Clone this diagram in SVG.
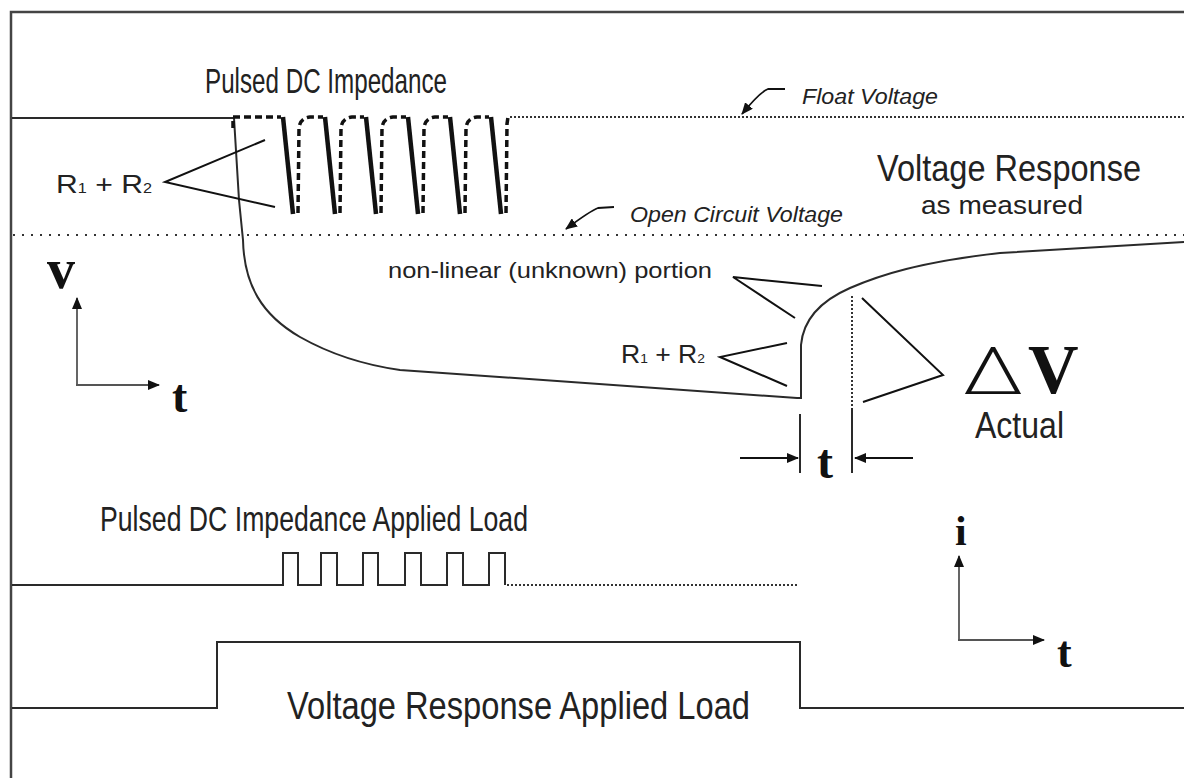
<svg xmlns="http://www.w3.org/2000/svg" width="1184" height="778" viewBox="0 0 1184 778">
<defs>
<marker id="ah" viewBox="0 0 12 10" refX="11" refY="5" markerWidth="12" markerHeight="10" markerUnits="userSpaceOnUse" orient="auto">
<path d="M0,0 L12,5 L0,10 z" fill="#111"/>
</marker>
</defs>
<style>
.ln{fill:none;stroke:#2a2a2a;stroke-width:2}
.frame{fill:none;stroke:#444;stroke-width:2.5}
.dot{fill:none;stroke:#333;stroke-width:2;stroke-dasharray:2 2}
.dot2{fill:none;stroke:#333;stroke-width:2;stroke-dasharray:2 7}
.thick{fill:none;stroke:#111;stroke-width:4.5}
.dash{fill:none;stroke:#111;stroke-width:3.5;stroke-dasharray:7 4}
.ax{fill:none;stroke:#555;stroke-width:1.8}
.arr{fill:none;stroke:#111;stroke-width:1.8}
.wd{fill:none;stroke:#111;stroke-width:2}
.t{font-family:"Liberation Sans",Arial,sans-serif;fill:#222}
.it{font-family:"Liberation Sans",Arial,sans-serif;font-style:italic;fill:#222}
.b{font-family:"Liberation Serif","Times New Roman",serif;font-weight:bold;fill:#111}
</style>
<rect width="1184" height="778" fill="#fff"/>
<g id="frame">
<path class="frame" d="M11,778 L11,12 L1184,12"/>
</g>
<g id="connectors">
<path class="ln" d="M12,118 L233,118"/>
<path class="dot" d="M510,117 L1184,117"/>
<path class="dot2" d="M13,235 L1184,235"/>
<path class="ln" d="M234,118 L239,200 L243,240 C244,285 262,315 300,337 C330,354 365,365 400,370 L797,398 L801,398 L801,345 C803,322 818,302 850,288 C880,275 920,262 1000,253 L1184,242"/>
<path class="dash" d="M233,128 L233,117 L281,117"/>
<path class="thick" d="M283,117 L293,214"/>
<path class="dash" d="M298,213 L299,128 Q300,118 310,117 L323,117"/>
<path class="thick" d="M325,117 L335,214"/>
<path class="dash" d="M340,213 L341,128 Q342,118 352,117 L364,117"/>
<path class="thick" d="M366,117 L376,214"/>
<path class="dash" d="M381,213 L382,128 Q383,118 393,117 L406,117"/>
<path class="thick" d="M408,117 L418,214"/>
<path class="dash" d="M423,213 L424,128 Q425,118 435,117 L448,117"/>
<path class="thick" d="M450,117 L460,214"/>
<path class="dash" d="M465,213 L466,128 Q467,118 477,117 L489,117"/>
<path class="thick" d="M491,117 L501,214"/>
<path class="dash" d="M506,213 L507,124 L508,117"/>
<path class="arr" d="M785,89 L768,89 Q760,92 742,114" marker-end="url(#ah)"/>
<path class="arr" d="M614,207 L598,208 Q590,211 566,229" marker-end="url(#ah)"/>
<path class="wd" d="M265,140 L165,182 L275,207"/>
<path class="wd" d="M822,286 L733,277 L795,318"/>
<path class="wd" d="M787,343 L720,357 L787,386"/>
<path class="wd" d="M862,298 L943,375 L863,402"/>
<path class="ln" d="M800,414 L800,473"/>
<path class="dot" d="M852,296 L852,408"/>
<path class="ln" d="M852,408 L852,473"/>
<path class="arr" d="M740,458 L798,458" marker-end="url(#ah)"/>
<path class="arr" d="M913,458 L855,458" marker-end="url(#ah)"/>
<path class="ax" d="M77,385 L77,298" marker-end="url(#ah)"/>
<path class="ax" d="M76,385 L159,385" marker-end="url(#ah)"/>
<path class="ax" d="M959,640 L959,556" marker-end="url(#ah)"/>
<path class="ax" d="M958,640 L1044,640" marker-end="url(#ah)"/>
<path class="ln" d="M12,585 L283,585 L283,553 L298,553 L298,585 L321,585 L321,553 L337,553 L337,585 L363,585 L363,553 L378,553 L378,585 L405,585 L405,553 L421,553 L421,585 L447,585 L447,553 L463,553 L463,585 L489,585 L489,553 L505,553 L505,585"/>
<path class="dot" d="M507,585 L797,585"/>
<path class="ln" d="M12,708 L217,708 L217,642 L800,642 L800,708 L1184,708"/>
</g>
<g id="label-pulsed-dc"><text class="t" x="205" y="93" font-size="35" textLength="242" lengthAdjust="spacingAndGlyphs">Pulsed DC Impedance</text></g>
<g id="label-float"><text class="it" x="802" y="104" font-size="22" textLength="136" lengthAdjust="spacingAndGlyphs">Float Voltage</text></g>
<g id="label-voltage-response"><text class="t" x="877" y="181" font-size="36" textLength="264" lengthAdjust="spacingAndGlyphs">Voltage Response</text>
<text class="t" x="921" y="214" font-size="25" textLength="162" lengthAdjust="spacingAndGlyphs">as measured</text></g>
<g id="label-ocv"><text class="it" x="630" y="222" font-size="22" textLength="213" lengthAdjust="spacingAndGlyphs">Open Circuit Voltage</text></g>
<g id="label-r1r2-left"><text class="t" x="56" y="193" font-size="26" textLength="96" lengthAdjust="spacingAndGlyphs">R<tspan font-size="14">1</tspan> + R<tspan font-size="14">2</tspan></text></g>
<g id="label-nonlinear"><text class="t" x="388" y="278" font-size="22" textLength="324" lengthAdjust="spacingAndGlyphs">non-linear (unknown) portion</text></g>
<g id="label-r1r2-mid"><text class="t" x="621" y="363" font-size="25" textLength="84" lengthAdjust="spacingAndGlyphs">R<tspan font-size="13">1</tspan> + R<tspan font-size="13">2</tspan></text></g>
<g id="label-delta-v"><text x="962" y="394" font-size="64" font-family="Inter,'Liberation Sans',sans-serif" font-weight="200" fill="#111" textLength="62" lengthAdjust="spacingAndGlyphs">Δ</text>
<text class="b" x="1028" y="393" font-size="70">V</text>
<text class="t" x="975" y="438" font-size="37" textLength="89" lengthAdjust="spacingAndGlyphs">Actual</text></g>
<g id="label-dt"><text class="b" x="817" y="478" font-size="48">t</text></g>
<g id="axis-vt"><text class="b" x="47" y="288" font-size="56">v</text>
<text class="b" x="172" y="412" font-size="46">t</text></g>
<g id="axis-it"><text class="b" x="955" y="545" font-size="42">i</text>
<text class="b" x="1057" y="667" font-size="44">t</text></g>
<g id="label-pulsed-load"><text class="t" x="100" y="531" font-size="35" textLength="428" lengthAdjust="spacingAndGlyphs">Pulsed DC Impedance Applied Load</text></g>
<g id="label-vr-load"><text class="t" x="287" y="719" font-size="38" textLength="463" lengthAdjust="spacingAndGlyphs">Voltage Response Applied Load</text></g>
</svg>
